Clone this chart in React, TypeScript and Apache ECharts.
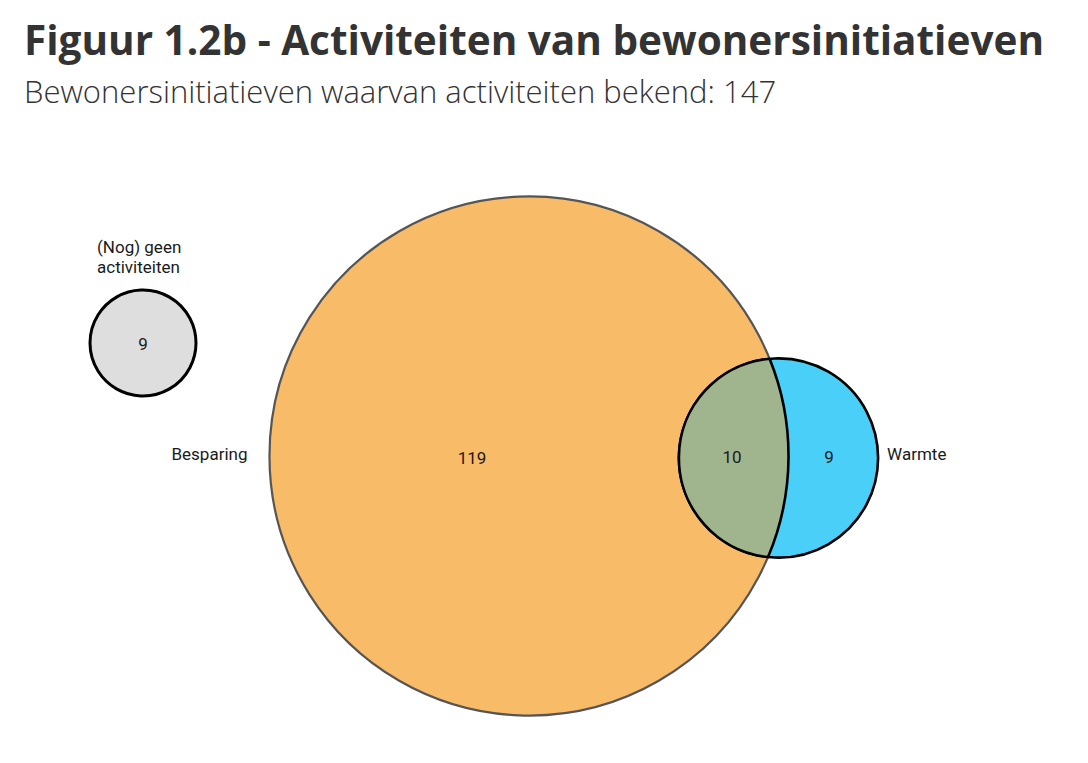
import React, { useEffect, useRef } from "react";
import * as echarts from "echarts";

// ---- data ----
const titleText = "Figuur 1.2b - Activiteiten van bewonersinitiatieven";
const subtitleText = "Bewonersinitiatieven waarvan activiteiten bekend: 147";
const setNames = ["Besparing", "Warmte", "(Nog) geen\nactiviteiten"];
const regionNames = ["Alleen besparing", "Besparing en warmte", "Alleen warmte", "(Nog) geen activiteiten"];
const regionValues = [119, 10, 9, 9];

// ---- layout (pixel space of the hidden axes) ----
const W = 1088;
const H = 763;
const AREA_K = 22.85; // px per sqrt(count)
const besparingCenter = [529, 456];
const warmteCenter = [778.5, 458];
const geenCenter = [143, 343];
const geenRadius = 53;

const FONT = "Roboto, 'Noto Sans', sans-serif";
const HEAD_FONT = "'Open Sans', 'Noto Sans', sans-serif";

function buildOption() {
  const besparingTotal = regionValues[0] + regionValues[1];
  const warmteTotal = regionValues[1] + regionValues[2];
  const r1 = AREA_K * Math.sqrt(besparingTotal);
  const r2 = AREA_K * Math.sqrt(warmteTotal);

  const circles = [
    { name: setNames[0], value: [besparingCenter[0], besparingCenter[1], r1, 0] },
    { name: setNames[1], value: [warmteCenter[0], warmteCenter[1], r2, 1] },
    { name: setNames[2], value: [geenCenter[0], geenCenter[1], geenRadius, 2] },
  ];

  const renderItem = (params: any, api: any) => {
    const idx = params.dataIndex;
    const cx = api.value(0);
    const cy = api.value(1);
    const r = api.value(2);
    const c = api.coord([cx, cy]);
    const rp = api.size([r, 0])[0];
    const children: any[] = [];
    const textStyleBase = { font: `17px ${FONT}`, fill: "#1a1a1a" };
    if (idx === 0) {
      children.push({
        type: "circle",
        shape: { cx: c[0], cy: c[1], r: rp },
        style: { fill: "#F8BC68", stroke: "#555555", lineWidth: 2.2 },
      });
      children.push({
        type: "text",
        style: { ...textStyleBase, text: String(regionValues[0]), x: c[0] - 57, y: c[1] + 2, align: "center", verticalAlign: "middle" },
      });
      children.push({
        type: "text",
        style: { ...textStyleBase, text: setNames[0], x: c[0] - rp - 22, y: c[1] - 2.5, align: "right", verticalAlign: "middle" },
      });
    } else if (idx === 1) {
      children.push({
        type: "circle",
        shape: { cx: c[0], cy: c[1], r: rp },
        style: { fill: "#4ACFF8", stroke: "#000000", lineWidth: 2.6 },
      });
      const b = api.coord([besparingCenter[0], besparingCenter[1]]);
      const R1 = api.size([r1, 0])[0];
      const dx = c[0] - b[0];
      const dy = c[1] - b[1];
      const d = Math.sqrt(dx * dx + dy * dy);
      const a = (d * d + R1 * R1 - rp * rp) / (2 * d);
      const h = Math.sqrt(Math.max(0, R1 * R1 - a * a));
      const ux = dx / d;
      const uy = dy / d;
      const mx = b[0] + a * ux;
      const my = b[1] + a * uy;
      const p1 = [mx + h * uy, my - h * ux];
      const p2 = [mx - h * uy, my + h * ux];
      const pathData =
        `M ${p1[0]} ${p1[1]} ` +
        `A ${rp} ${rp} 0 0 0 ${p2[0]} ${p2[1]} ` +
        `A ${R1} ${R1} 0 0 0 ${p1[0]} ${p1[1]} Z`;
      children.push({
        type: "path",
        shape: { pathData },
        style: { fill: "#A0B48E", stroke: "#000000", lineWidth: 2.6 },
      });
      children.push({
        type: "text",
        style: { ...textStyleBase, text: String(regionValues[1]), x: c[0] - 46.5, y: c[1] - 1.5, align: "center", verticalAlign: "middle" },
      });
      children.push({
        type: "text",
        style: { ...textStyleBase, text: String(regionValues[2]), x: c[0] + 50.5, y: c[1] - 1.5, align: "center", verticalAlign: "middle" },
      });
      children.push({
        type: "text",
        style: { ...textStyleBase, text: setNames[1], x: c[0] + rp + 9, y: c[1] - 4.5, align: "left", verticalAlign: "middle" },
      });
    } else {
      children.push({
        type: "circle",
        shape: { cx: c[0], cy: c[1], r: rp },
        style: { fill: "#DEDEDE", stroke: "#000000", lineWidth: 3 },
      });
      children.push({
        type: "text",
        style: { ...textStyleBase, text: String(regionValues[3]), x: c[0], y: c[1] + 1, align: "center", verticalAlign: "middle" },
      });
      children.push({
        type: "text",
        style: { ...textStyleBase, text: setNames[2], x: c[0] - 46, y: c[1] - rp - 33, align: "left", verticalAlign: "middle", lineHeight: 20 },
      });
    }
    return { type: "group", children };
  };

  return {
    animation: false,
    backgroundColor: "#ffffff",
    title: [
      {
        text: titleText,
        left: 19,
        top: 14,
        textStyle: { fontFamily: HEAD_FONT, fontSize: 40.5, fontWeight: "bold", color: "#333333" },
      },
      {
        text: subtitleText,
        left: 19,
        top: 70,
        textStyle: { fontFamily: HEAD_FONT, fontSize: 31, fontWeight: 300, color: "#333333" },
      },
    ],
    grid: { left: 0, right: 0, top: 0, bottom: 0 },
    xAxis: { type: "value", min: 0, max: W, show: false },
    yAxis: { type: "value", min: 0, max: H, inverse: true, show: false },
    tooltip: { show: false },
    series: [
      {
        type: "custom",
        name: regionNames.join(" / "),
        coordinateSystem: "cartesian2d",
        renderItem,
        data: circles,
        clip: false,
      },
    ],
  };
}

export default function App() {
  const ref = useRef<HTMLDivElement>(null);
  useEffect(() => {
    document.body.style.margin = "0";
    if (!ref.current) return;
    const chart = echarts.init(ref.current, undefined, { renderer: "svg" });
    chart.setOption(buildOption() as any);
    return () => chart.dispose();
  }, []);
  return <div ref={ref} style={{ width: W, height: H }} />;
}
